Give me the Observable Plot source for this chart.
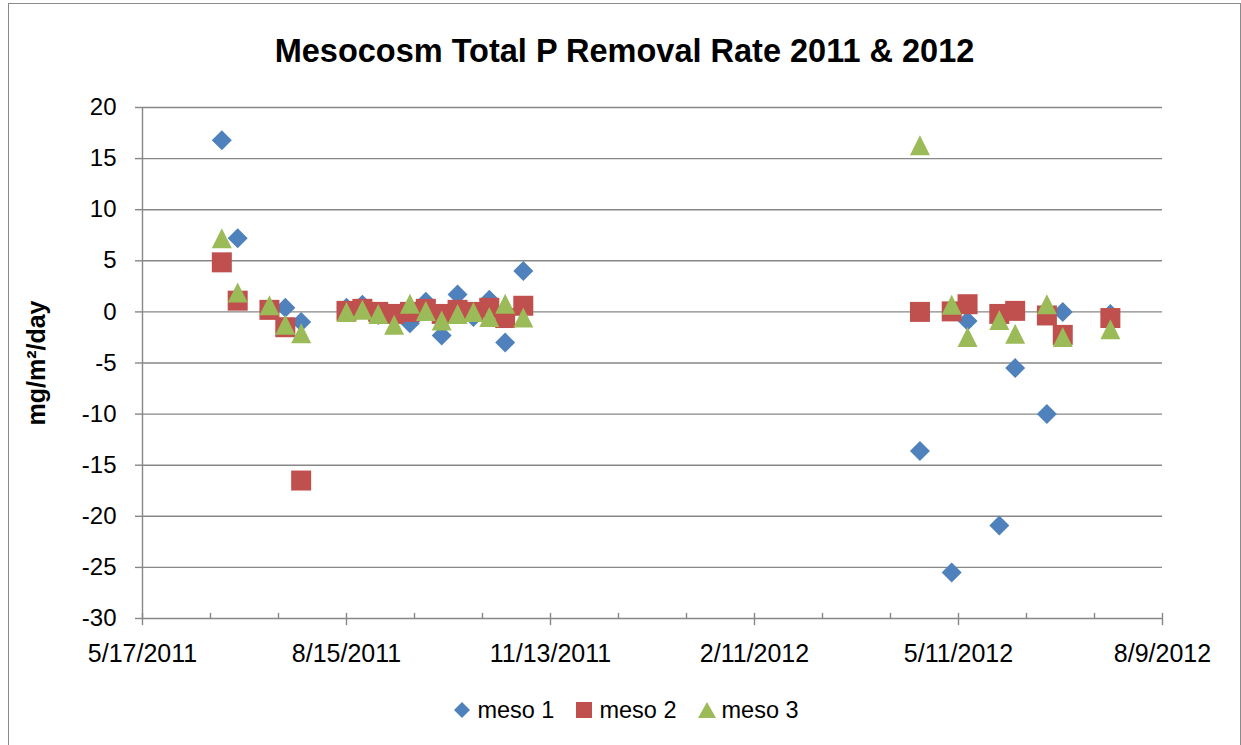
<!DOCTYPE html>
<html>
<head>
<meta charset="utf-8">
<script src="https://cdn.jsdelivr.net/npm/d3@7"></script>
<script src="https://cdn.jsdelivr.net/npm/@observablehq/plot@0.6"></script>
<style>
  html, body { margin: 0; padding: 0; background: #fff; }
  body { font-family: "Liberation Sans", Arial, sans-serif; width: 1241px; height: 745px; overflow: hidden; position: relative; }
  #border { position: absolute; left: 8px; top: 3px; width: 1233px; height: 800px; border: 1px solid #8a8a8a; box-sizing: border-box; pointer-events: none; }
  #title { height: 90px; box-sizing: border-box; padding-top: 35px; padding-left: 8px; text-align: center; font-weight: bold; font-size: 32.5px; line-height: 32px; color: #000; }
  #chart svg { display: block; }
  #legend { height: 55px; display: flex; align-items: flex-start; justify-content: center; padding-left: 12px; box-sizing: border-box; }
  .item { display: flex; align-items: center; height: 40px; margin: 0 11px; font-size: 23.5px; color: #000; }
  .item svg { margin-right: 7px; }
</style>
</head>
<body>
<div id="border"></div>
<div id="title">Mesocosm Total P Removal Rate 2011 &amp; 2012</div>
<div id="chart"></div>
<div id="legend"></div>
<script>
// ---- data ----
const seriesNames = ["meso 1", "meso 2", "meso 3"];
const seriesColors = ["#4F81BD", "#C0504D", "#9BBB59"];

const meso1Dates = ["2011-06-21","2011-06-28","2011-07-19","2011-07-26","2011-08-15","2011-08-22","2011-08-29","2011-09-12","2011-09-19","2011-09-26","2011-10-03","2011-10-10","2011-10-17","2011-10-24","2011-11-01","2012-04-24","2012-05-08","2012-05-15","2012-05-29","2012-06-05","2012-06-19","2012-06-26","2012-07-17"];
const meso1Values = [16.8, 7.2, 0.4, -1.0, 0.4, 0.7, -0.3, -1.1, 1.0, -2.3, 1.7, -0.5, 1.2, -3.0, 4.0, -13.6, -25.5, -0.9, -20.9, -5.5, -10.0, 0.0, -0.2];

const meso2Dates = ["2011-06-21","2011-06-28","2011-07-12","2011-07-19","2011-07-26","2011-08-15","2011-08-22","2011-08-29","2011-09-05","2011-09-12","2011-09-19","2011-09-26","2011-10-03","2011-10-10","2011-10-17","2011-10-24","2011-11-01","2012-04-24","2012-05-08","2012-05-15","2012-05-29","2012-06-05","2012-06-19","2012-06-26","2012-07-17"];
const meso2Values = [4.85, 1.1, 0.2, -1.5, -16.5, 0.1, 0.3, 0.0, -0.2, 0.0, 0.3, -0.2, 0.2, 0.0, 0.4, -0.6, 0.6, 0.0, 0.05, 0.75, -0.2, 0.1, -0.35, -2.25, -0.6];

const meso3Dates = ["2011-06-21","2011-06-28","2011-07-12","2011-07-19","2011-07-26","2011-08-15","2011-08-22","2011-08-29","2011-09-05","2011-09-12","2011-09-19","2011-09-26","2011-10-03","2011-10-10","2011-10-17","2011-10-24","2011-11-01","2012-04-24","2012-05-08","2012-05-15","2012-05-29","2012-06-05","2012-06-19","2012-06-26","2012-07-17"];
const meso3Values = [7.2, 1.9, 0.65, -1.25, -2.1, 0.0, 0.2, -0.2, -1.25, 0.8, 0.1, -0.85, -0.2, 0.0, -0.5, 0.8, -0.55, 16.3, 0.7, -2.45, -0.8, -2.15, 0.75, -2.45, -1.7];

const xTickLabels = ["5/17/2011", "8/15/2011", "11/13/2011", "2/11/2012", "5/11/2012", "8/9/2012"];
const yTicks = [-30, -25, -20, -15, -10, -5, 0, 5, 10, 15, 20];
const yLabel = "mg/m\u00b2/day";

// ---- helpers ----
const parseMDY = s => { const [m, d, y] = s.split("/").map(Number); return new Date(Date.UTC(y, m - 1, d)); };
const fmtMDY = d => `${d.getUTCMonth() + 1}/${d.getUTCDate()}/${d.getUTCFullYear()}`;
const majorTicks = xTickLabels.map(parseMDY);
const xStart = majorTicks[0], xEnd = majorTicks[majorTicks.length - 1];
const minorTicks = d3.utcDay.range(xStart, d3.utcDay.offset(xEnd, 1), 1)
  .filter(d => Math.round((d - xStart) / 864e5) % 30 === 0 && Math.round((d - xStart) / 864e5) % 90 !== 0);

const half = size => Math.sqrt(size / Math.PI);
const diamond = { draw(ctx, size) { const r = half(size); ctx.moveTo(0, -r); ctx.lineTo(r, 0); ctx.lineTo(0, r); ctx.lineTo(-r, 0); ctx.closePath(); } };
const square = { draw(ctx, size) { const r = half(size); ctx.moveTo(-r, -r); ctx.lineTo(r, -r); ctx.lineTo(r, r); ctx.lineTo(-r, r); ctx.closePath(); } };
const triangle = { draw(ctx, size) { const r = half(size); ctx.moveTo(0, -r); ctx.lineTo(r, r); ctx.lineTo(-r, r); ctx.closePath(); } };
const symbols = [diamond, square, triangle];

const toRows = (dates, values) => dates.map((d, i) => ({ date: new Date(d + "T00:00:00Z"), value: values[i] }));
const series = [toRows(meso1Dates, meso1Values), toRows(meso2Dates, meso2Values), toRows(meso3Dates, meso3Values)];

const gridColor = "#878787";

const plot = Plot.plot({
  width: 1241,
  height: 600,
  marginTop: 17,
  marginLeft: 142,
  marginRight: 79,
  marginBottom: 72,
  style: { fontFamily: "'Liberation Sans', Arial, sans-serif", background: "transparent", overflow: "visible", color: "#000" },
  x: { type: "utc", domain: [xStart, xEnd] },
  y: { domain: [-30, 20] },
  marks: [
    Plot.gridY(yTicks.filter(v => v > -30), { stroke: gridColor, strokeOpacity: 1, strokeWidth: 1.4 }),
    Plot.ruleY([-30], { stroke: gridColor, strokeWidth: 1.4 }),
    Plot.ruleX([xStart], { stroke: gridColor, strokeWidth: 1.4 }),
    Plot.axisY({ ticks: yTicks, tickSize: 7, tickPadding: 19, fontSize: 24, stroke: gridColor, strokeWidth: 1.4, fill: "#000", tickFormat: d => String(d), label: null }),
    Plot.axisX({ ticks: majorTicks, tickSize: 0, tickPadding: 26, fontSize: 25, fill: "#000", tickFormat: fmtMDY, label: null }),
    Plot.ruleX(majorTicks, { x: d => d, y1: -30.7, y2: -29.5, stroke: gridColor, strokeWidth: 1.4 }),
    Plot.ruleX(minorTicks, { x: d => d, y1: -30, y2: -29.5, stroke: gridColor, strokeWidth: 1.4 }),
    ...series.map((rows, i) => Plot.dot(rows, { x: "date", y: "value", r: 10, symbol: symbols[i], fill: seriesColors[i], stroke: null })),
    Plot.text([yLabel], { frameAnchor: "left", dx: -106, rotate: -90, textAnchor: "middle", lineAnchor: "middle", fontSize: 25, fontWeight: "bold", fill: "#000" })
  ]
});
document.getElementById("chart").appendChild(plot);

// ---- legend ----
const legend = document.getElementById("legend");
const legendShapes = [
  '<polygon points="8,0 16,8 8,16 0,8"/>',
  '<rect x="0" y="0" width="16" height="16"/>',
  '<polygon points="8,0 17,16 -1,16"/>'
];
seriesNames.forEach((name, i) => {
  const item = document.createElement("div");
  item.className = "item";
  item.innerHTML = `<svg width="16" height="16" viewBox="0 0 16 16" overflow="visible" fill="${seriesColors[i]}">${legendShapes[i]}</svg><span>${name}</span>`;
  legend.appendChild(item);
});
</script>
</body>
</html>
